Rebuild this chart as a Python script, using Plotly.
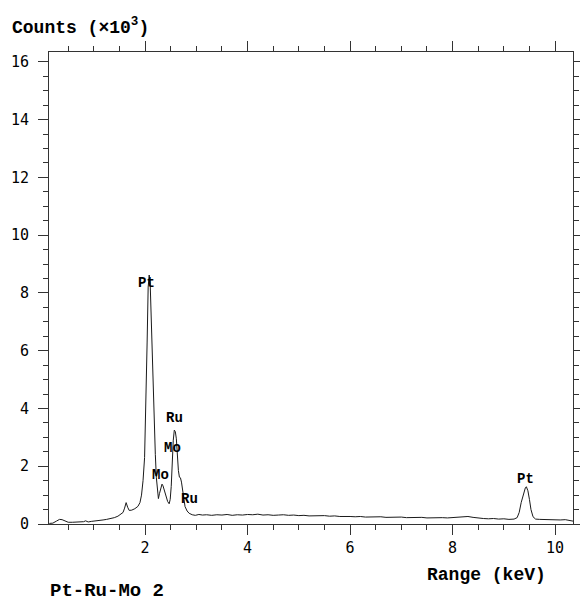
import plotly.graph_objects as go

energy_kev = [0.13, 0.20, 0.27, 0.33, 0.38, 0.44, 0.50, 0.58, 0.65, 0.73, 0.80, 0.84, 0.89, 0.95,
              1.02, 1.10, 1.18, 1.25, 1.32, 1.40, 1.47, 1.52, 1.57, 1.60, 1.63, 1.66, 1.69, 1.74,
              1.80, 1.86, 1.90, 1.93, 1.96, 1.99, 2.02, 2.04, 2.06, 2.08, 2.10, 2.12, 2.14, 2.16,
              2.18, 2.20, 2.22, 2.24, 2.26, 2.28, 2.31, 2.33, 2.35, 2.38, 2.41, 2.44, 2.47, 2.49,
              2.51, 2.53, 2.55, 2.57, 2.59, 2.61, 2.63, 2.65, 2.67, 2.69, 2.71, 2.73, 2.75, 2.78,
              2.82, 2.86, 2.92, 2.98, 3.05, 3.12, 3.2, 3.3, 3.4, 3.5, 3.6, 3.7, 3.8, 3.9, 4.0,
              4.1, 4.2, 4.3, 4.4, 4.5, 4.6, 4.7, 4.8, 4.9, 5.0, 5.1, 5.2, 5.3, 5.4, 5.5, 5.6,
              5.7, 5.8, 5.9, 6.0, 6.1, 6.2, 6.3, 6.4, 6.5, 6.6, 6.7, 6.8, 6.9, 7.0, 7.1, 7.2,
              7.3, 7.4, 7.5, 7.6, 7.7, 7.8, 7.9, 8.0, 8.1, 8.2, 8.3, 8.4, 8.5, 8.6, 8.7, 8.8,
              8.9, 9.0, 9.1, 9.2, 9.26, 9.30, 9.34, 9.38, 9.42, 9.44, 9.47, 9.50, 9.53, 9.57,
              9.62, 9.7, 9.8, 9.9, 10.0, 10.1, 10.2, 10.3, 10.35]
counts_k = [0.02, 0.03, 0.10, 0.16, 0.15, 0.11, 0.06, 0.06, 0.07, 0.06, 0.08, 0.11, 0.07, 0.09,
            0.10, 0.11, 0.14, 0.16, 0.18, 0.22, 0.27, 0.33, 0.40, 0.55, 0.74, 0.58, 0.47, 0.48,
            0.53, 0.61, 0.74, 1.00, 1.50, 2.30, 4.20, 6.30, 8.20, 8.62, 8.30, 7.00, 5.60, 4.30,
            3.30, 2.40, 1.60, 1.05, 0.88, 1.05, 1.30, 1.38, 1.32, 1.12, 0.92, 0.78, 0.70, 0.85,
            1.30, 2.20, 2.90, 3.25, 3.20, 2.95, 2.30, 1.85, 1.62, 1.60, 1.45, 1.15, 0.85, 0.60,
            0.45, 0.37, 0.32, 0.30, 0.33, 0.31, 0.32, 0.30, 0.32, 0.31, 0.33, 0.30, 0.32, 0.31, 0.33,
            0.32, 0.34, 0.31, 0.32, 0.30, 0.31, 0.32, 0.30, 0.31, 0.29, 0.30, 0.28, 0.29, 0.28, 0.29, 0.27,
            0.28, 0.26, 0.27, 0.26, 0.25, 0.26, 0.24, 0.25, 0.24, 0.25, 0.23, 0.24, 0.23, 0.24, 0.22, 0.23,
            0.22, 0.23, 0.21, 0.22, 0.21, 0.22, 0.21, 0.22, 0.23, 0.25, 0.26, 0.23, 0.20, 0.19, 0.18, 0.19,
            0.17, 0.18, 0.16, 0.17, 0.22, 0.40, 0.75, 1.05, 1.25, 1.29, 1.15, 0.85, 0.50, 0.25,
            0.17, 0.16, 0.15, 0.16, 0.15, 0.14, 0.15, 0.12, 0.10]

peak_labels = ["Pt", "Ru", "Mo", "Mo", "Ru", "Pt"]
peak_x = [2.02, 2.58, 2.54, 2.31, 2.86, 9.42]
peak_y = [8.34, 3.67, 2.63, 1.71, 0.87, 1.56]

x_ticks = [2, 4, 6, 8, 10]
y_ticks = [0, 2, 4, 6, 8, 10, 12, 14, 16]

FONT = "Liberation Mono"
TICKFONT = "DejaVu Sans Mono"

fig = go.Figure()
fig.add_trace(go.Scatter(x=energy_kev, y=counts_k, mode="lines",
                         line=dict(color="#1a1a1a", width=1), showlegend=False,
                         hoverinfo="skip"))

for lab, lx, ly in zip(peak_labels, peak_x, peak_y):
    fig.add_annotation(x=lx, y=ly, text=f"<b>{lab}</b>", showarrow=False,
                       font=dict(family=FONT, size=14, color="black"))

axis_common = dict(showgrid=False, zeroline=False, showline=True, linecolor="#333",
                   linewidth=1, mirror="ticks", ticks="outside", ticklen=10, tickwidth=1,
                   tickcolor="#333", automargin=False,
                   tickfont=dict(family=TICKFONT, size=15, color="black"))

fig.update_xaxes(range=[0.125, 10.35], tickvals=x_ticks, ticktext=[str(v) for v in x_ticks],
                 minor=dict(dtick=0.5, tick0=0, ticklen=5, ticks="outside", tickcolor="#333"),
                 ticklabelstandoff=0, **axis_common)
fig.update_yaxes(range=[0, 16.34], tickvals=y_ticks, ticktext=[str(v) for v in y_ticks],
                 minor=dict(dtick=0.5, tick0=0, ticklen=5, ticks="outside", tickcolor="#333"),
                 ticklabelstandoff=6, **axis_common)

fig.add_annotation(xref="paper", yref="paper", x=-0.0745, y=1.0536, xanchor="left",
                   yanchor="middle", showarrow=False,
                   text="<b>Counts (×10<sup>3</sup>)</b>",
                   font=dict(family=FONT, size=18, color="black"))
fig.add_annotation(xref="paper", yref="paper", x=0.952, y=-0.108, xanchor="right",
                   yanchor="middle", showarrow=False, text="<b>Range (keV)</b>",
                   font=dict(family=FONT, size=18, color="black"))
fig.add_annotation(xref="paper", yref="paper", x=-0.002, y=-0.143, xanchor="left",
                   yanchor="middle", showarrow=False, text="<b>Pt-Ru-Mo 2</b>",
                   font=dict(family=FONT, size=19, color="black"))

fig.update_layout(width=580, height=601, autosize=False,
                  margin=dict(l=49, r=7, t=52, b=77),
                  plot_bgcolor="white", paper_bgcolor="white")

fig.write_html(
    "out.html",
    config={"responsive": False, "displayModeBar": False},
    post_script=(
        "document.documentElement.style.margin='0';"
        "document.documentElement.style.overflow='hidden';"
        "document.body.style.margin='0';"
        "document.body.style.overflow='hidden';"
        "var gd=document.getElementById('{plot_id}');"
        "gd.style.width='580px';gd.style.height='601px';"
        "Plotly.relayout(gd, {width: 580, height: 601});"
    ),
)
